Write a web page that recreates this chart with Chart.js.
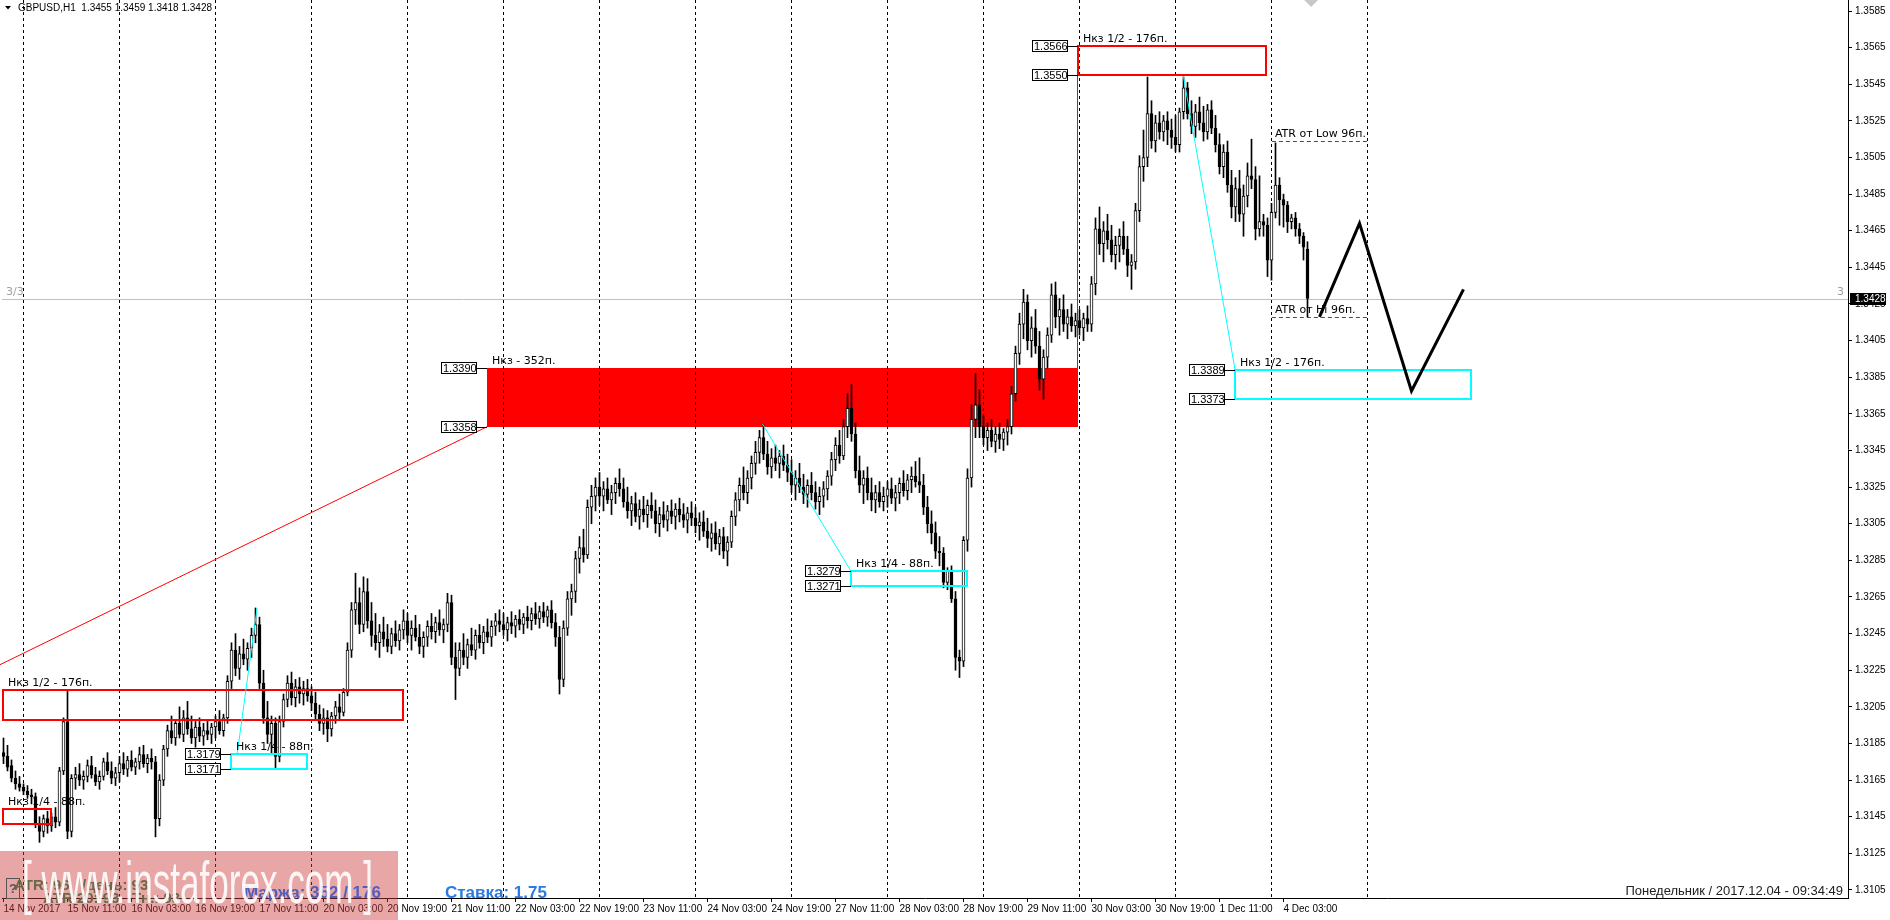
<!DOCTYPE html>
<html><head><meta charset="utf-8">
<script src="https://cdn.jsdelivr.net/npm/chart.js@4/dist/chart.umd.min.js"></script>
<style>html,body{margin:0;padding:0;background:#fff;overflow:hidden}</style>
</head><body>
<canvas id="c" width="1890" height="920" style="display:block;width:1890px;height:920px"></canvas>
<script>
// ---------- DATA (prices in pips: 3428 = 1.3428) ----------
const labelBars = [0,16,32,48,64,80,96,112,128,144,160,176,192,208,224,240,256,272,288,304,320];
const xLabels = ['14 Nov 2017','15 Nov 11:00','16 Nov 03:00','16 Nov 19:00','17 Nov 11:00','20 Nov 03:00','20 Nov 19:00','21 Nov 11:00','22 Nov 03:00','22 Nov 19:00','23 Nov 11:00','24 Nov 03:00','24 Nov 19:00','27 Nov 11:00','28 Nov 03:00','28 Nov 19:00','29 Nov 11:00','30 Nov 03:00','30 Nov 19:00','1 Dec 11:00','4 Dec 03:00'];
const separatorBars = [5,29,53,77,101,125,149,173,197,221,245,269,293,317,341];
const yTicks = [1.3105,1.3125,1.3145,1.3165,1.3185,1.3205,1.3225,1.3245,1.3265,1.3285,1.3305,1.3325,1.3345,1.3365,1.3385,1.3405,1.3425,1.3445,1.3465,1.3485,1.3505,1.3525,1.3545,1.3565,1.3585];

// candles [open, high, low, close]
const nov14 = [[3180,3188,3174,3178],[3178,3184,3170,3172],[3173,3176,3164,3166],[3166,3170,3160,3163],[3163,3167,3159,3161]];
const nov15 = [[3161,3163,3157,3159],[3159,3162,3155,3157],[3157,3160,3152,3156],[3156,3158,3139,3141],[3141,3145,3131,3137],[3137,3146,3134,3144],[3144,3148,3136,3140],[3140,3147,3137,3145],[3145,3150,3139,3142],[3142,3172,3140,3170],[3170,3199,3168,3197],[3197,3214,3133,3137],[3137,3168,3134,3166],[3166,3172,3160,3168],[3168,3174,3162,3165],[3165,3170,3160,3167],[3167,3176,3164,3173],[3173,3178,3166,3168],[3168,3172,3162,3164],[3164,3170,3160,3167],[3167,3177,3165,3175],[3175,3180,3168,3170],[3170,3175,3163,3166],[3166,3172,3162,3169]];
const nov16 = [[3169,3178,3164,3174],[3174,3180,3168,3171],[3171,3178,3167,3176],[3176,3181,3170,3172],[3172,3177,3168,3175],[3175,3183,3171,3179],[3179,3184,3172,3174],[3174,3179,3169,3177],[3177,3182,3171,3175],[3175,3178,3134,3144],[3144,3168,3140,3165],[3165,3184,3162,3182],[3182,3195,3178,3192],[3192,3200,3185,3188],[3188,3198,3184,3196],[3196,3205,3188,3190],[3190,3203,3186,3199],[3199,3208,3190,3193],[3193,3200,3185,3188],[3188,3197,3183,3194],[3194,3199,3186,3189],[3189,3196,3184,3192],[3192,3198,3187,3190],[3190,3196,3185,3194]];
const nov17 = [[3194,3200,3188,3197],[3197,3203,3190,3192],[3192,3201,3189,3199],[3199,3222,3196,3219],[3219,3240,3215,3236],[3236,3245,3222,3226],[3226,3238,3220,3234],[3234,3242,3228,3231],[3231,3240,3225,3237],[3237,3248,3232,3244],[3244,3259,3240,3250],[3250,3254,3215,3218],[3218,3225,3196,3199],[3199,3208,3185,3190],[3190,3200,3180,3196],[3196,3199,3171,3178],[3178,3200,3175,3197],[3197,3212,3194,3209],[3209,3222,3205,3218],[3218,3224,3206,3210],[3210,3220,3205,3216],[3216,3221,3207,3212],[3212,3219,3206,3215],[3215,3220,3208,3211]];
const nov20 = [[3211,3216,3203,3207],[3207,3213,3198,3201],[3201,3206,3192,3196],[3196,3204,3190,3199],[3199,3203,3186,3193],[3193,3202,3189,3200],[3200,3208,3196,3205],[3205,3212,3198,3202],[3202,3215,3200,3213],[3213,3240,3211,3236],[3236,3262,3232,3258],[3258,3278,3250,3262],[3262,3270,3245,3250],[3250,3276,3246,3268],[3268,3275,3248,3252],[3252,3262,3238,3244],[3244,3256,3236,3240],[3240,3250,3232,3246],[3246,3254,3238,3242],[3242,3250,3235,3238],[3238,3248,3234,3245],[3245,3252,3238,3241],[3241,3250,3236,3247],[3247,3258,3242,3252]];
const nov21 = [[3252,3256,3240,3244],[3244,3252,3236,3248],[3248,3255,3241,3243],[3243,3250,3234,3238],[3238,3246,3232,3243],[3243,3252,3238,3249],[3249,3256,3242,3246],[3246,3254,3240,3251],[3251,3258,3244,3247],[3247,3253,3240,3250],[3250,3267,3246,3262],[3262,3266,3228,3232],[3232,3240,3209,3226],[3226,3240,3222,3236],[3236,3245,3228,3232],[3232,3242,3226,3239],[3239,3248,3233,3236],[3236,3247,3231,3244],[3244,3250,3237,3240],[3240,3249,3234,3246],[3246,3253,3240,3243],[3243,3252,3238,3249],[3249,3256,3244,3252],[3252,3258,3246,3250]];
const nov22 = [[3250,3256,3244,3247],[3247,3254,3241,3251],[3251,3257,3245,3249],[3249,3255,3243,3253],[3253,3258,3247,3250],[3250,3256,3245,3254],[3254,3260,3248,3252],[3252,3259,3247,3256],[3256,3262,3250,3253],[3253,3260,3248,3257],[3257,3262,3251,3254],[3254,3260,3249,3258],[3258,3263,3248,3251],[3251,3256,3238,3243],[3243,3249,3212,3220],[3220,3252,3216,3248],[3248,3268,3244,3264],[3264,3272,3255,3268],[3268,3290,3262,3286],[3286,3298,3278,3292],[3292,3302,3284,3288],[3288,3318,3286,3314],[3314,3326,3305,3320],[3320,3330,3312,3325]];
const nov23 = [[3325,3333,3315,3320],[3320,3328,3312,3324],[3324,3330,3316,3318],[3318,3326,3310,3322],[3322,3330,3316,3327],[3327,3335,3320,3324],[3324,3330,3314,3317],[3317,3325,3308,3312],[3312,3320,3304,3316],[3316,3322,3306,3309],[3309,3318,3302,3313],[3313,3320,3306,3310],[3310,3318,3303,3315],[3315,3322,3308,3312],[3312,3318,3300,3305],[3305,3314,3298,3310],[3310,3317,3303,3307],[3307,3315,3301,3312],[3312,3318,3305,3309],[3309,3316,3302,3313],[3313,3319,3306,3310],[3310,3316,3303,3307],[3307,3314,3300,3311],[3311,3317,3304,3308]];
const nov24 = [[3308,3314,3300,3304],[3304,3311,3296,3306],[3306,3312,3298,3301],[3301,3308,3292,3297],[3297,3305,3290,3300],[3300,3306,3291,3294],[3294,3302,3288,3298],[3298,3303,3286,3290],[3290,3298,3282,3295],[3295,3312,3292,3309],[3309,3322,3304,3318],[3318,3330,3312,3326],[3326,3336,3318,3322],[3322,3334,3316,3330],[3330,3342,3324,3338],[3338,3350,3332,3344],[3344,3356,3338,3352],[3352,3359,3340,3343],[3343,3350,3332,3336],[3336,3346,3330,3341],[3341,3348,3334,3338],[3338,3345,3330,3342],[3342,3348,3334,3337],[3337,3343,3328,3333]];
const nov27 = [[3333,3340,3322,3326],[3326,3334,3318,3330],[3330,3338,3322,3325],[3325,3332,3316,3321],[3321,3329,3314,3326],[3326,3333,3318,3322],[3322,3328,3313,3317],[3317,3325,3310,3320],[3320,3328,3314,3324],[3324,3334,3318,3331],[3331,3344,3326,3340],[3340,3352,3334,3348],[3348,3356,3338,3342],[3342,3362,3340,3358],[3358,3376,3352,3368],[3368,3381,3350,3354],[3354,3360,3330,3334],[3334,3342,3322,3326],[3326,3334,3316,3330],[3330,3336,3318,3322],[3322,3330,3312,3318],[3318,3326,3311,3322],[3322,3328,3314,3317],[3317,3325,3312,3320]];
const nov28 = [[3320,3328,3314,3324],[3324,3330,3316,3319],[3319,3326,3312,3322],[3322,3330,3316,3327],[3327,3334,3320,3323],[3323,3332,3318,3329],[3329,3336,3322,3331],[3331,3339,3325,3328],[3328,3341,3322,3326],[3326,3332,3310,3314],[3314,3320,3300,3305],[3305,3312,3294,3300],[3300,3306,3286,3290],[3290,3298,3282,3289],[3289,3292,3270,3273],[3273,3281,3269,3279],[3279,3282,3262,3264],[3264,3268,3225,3232],[3232,3236,3221,3230],[3230,3298,3227,3296],[3296,3335,3290,3330],[3330,3370,3325,3362],[3362,3387,3352,3370],[3370,3378,3352,3358]];
const nov29 = [[3358,3364,3348,3352],[3352,3360,3345,3356],[3356,3362,3347,3350],[3350,3358,3344,3354],[3354,3360,3346,3351],[3351,3357,3345,3355],[3355,3362,3348,3358],[3358,3380,3354,3376],[3376,3402,3372,3398],[3398,3420,3392,3414],[3414,3433,3406,3426],[3426,3430,3400,3405],[3405,3418,3396,3412],[3412,3422,3398,3402],[3402,3410,3378,3384],[3384,3400,3373,3396],[3396,3412,3390,3408],[3408,3436,3404,3430],[3430,3437,3412,3418],[3418,3428,3408,3422],[3422,3430,3410,3414],[3414,3422,3406,3418],[3418,3425,3410,3413],[3413,3420,3407,3416]];
const nov30 = [[3416,3422,3408,3412],[3412,3420,3405,3417],[3417,3424,3410,3414],[3414,3440,3410,3436],[3436,3472,3430,3466],[3466,3478,3452,3458],[3458,3470,3448,3465],[3465,3474,3455,3460],[3460,3468,3448,3452],[3452,3462,3444,3457],[3457,3466,3448,3462],[3462,3470,3452,3455],[3455,3462,3440,3446],[3446,3452,3433,3448],[3448,3480,3444,3476],[3476,3506,3470,3500],[3500,3520,3492,3505],[3505,3549,3500,3529],[3529,3536,3510,3514],[3514,3528,3508,3524],[3524,3530,3515,3519],[3519,3528,3514,3525],[3525,3530,3512,3520],[3520,3526,3510,3516]];
const dec01 = [[3516,3528,3508,3512],[3512,3532,3508,3530],[3530,3549,3526,3543],[3543,3546,3526,3529],[3529,3536,3518,3522],[3522,3534,3516,3530],[3530,3538,3520,3524],[3524,3533,3514,3519],[3519,3534,3515,3531],[3531,3536,3518,3521],[3521,3528,3508,3512],[3512,3518,3496,3500],[3500,3512,3494,3508],[3508,3514,3486,3490],[3490,3498,3472,3478],[3478,3494,3470,3488],[3488,3498,3470,3474],[3474,3490,3462,3484],[3484,3502,3478,3495],[3495,3515,3488,3493],[3493,3500,3460,3466],[3466,3495,3462,3470],[3470,3474,3462,3468],[3468,3472,3440,3449]];
const dec04 = [[3449,3480,3438,3475],[3475,3513,3472,3490],[3490,3494,3468,3482],[3482,3485,3467,3479],[3479,3481,3464,3470],[3470,3474,3466,3472],[3472,3475,3462,3466],[3466,3469,3458,3462],[3462,3464,3449,3456],[3455,3459,3418,3428]];

// annotation values
const currentPrice = 1.3428;
const zonePrices = [[1.3390,1.3358],[1.3566,1.3550],[1.3214,1.3198],[1.3149,1.3141],[1.3179,1.3171],[1.3279,1.3271],[1.3389,1.3373]];
const zoneBars = [[120.9,268.6],[268.6,315.6],[-0.2,99.9],[-0.2,11.9],[56.9,75.9],[211.9,240.9],[307.9,366.9]];
const zoneTexts = ['Нкз - 352п.','Нкз 1/2 - 176п.','Нкз 1/2 - 176п.','Нкз 1/4 - 88п.','Нкз 1/4 - 88п.','Нкз 1/4 - 88п.','Нкз 1/2 - 176п.'];
const zoneBoxLabels = [['1.3390','1.3358'],['1.3566','1.3550'],null,null,['1.3179','1.3171'],['1.3279','1.3271'],['1.3389','1.3373']];
const cyanLines = [[58.4,1.3179,63.4,1.3259],[189.75,1.33595,211.9,1.3279],[295,1.3549,307.9,1.3389]];
const trendLine = [-0.9,1.3228,120.9,1.3358];
const redVertical = [268.4,1.3550,1.3390];
const atrLevels = [1.3514,1.3418];
const atrBars = [317.1,340.9];
const atrTexts = ['ATR от Low 96п.','ATR от Hi 96п.'];
const forecastBars = [329,339,352,365];
const forecastPrices = [1.3418,1.3469,1.33775,1.3433];
const markerBar = 326.9;
const titleText = 'GBPUSD,H1  1.3455 1.3459 1.3418 1.3428';
const dateText = 'Понедельник / 2017.12.04 - 09:34:49';
const infoTexts = ['ATR: 96   /день: 93','ATR/20: 93   Тн.: 93','Маржа: 352 / 176','Ставка: 1.75'];
const watermark = '[ www.instaforex.com ]';

// ---------- BUILD ----------
const P = v => 1 + v / 10000;
const candles = [].concat(nov14,nov15,nov16,nov17,nov20,nov21,nov22,nov23,nov24,nov27,nov28,nov29,nov30,dec01,dec04);

const zoneStyles = [
  {fill:'#ff0000'},{stroke:'#ff0000'},{stroke:'#ff0000'},{stroke:'#ff0000'},
  {stroke:'#00ffff'},{stroke:'#00ffff'},{stroke:'#00ffff'}];

const mt4 = {
  id:'mt4',
  beforeDatasetsDraw(chart){
    const {ctx, chartArea:a, scales:{x:xs,y:ys}} = chart;
    const X = b => xs.getPixelForValue(b), Y = p => ys.getPixelForValue(p);
    ctx.save();
    zonePrices.forEach((zp,k)=>{
      if(!zoneStyles[k].fill) return;
      const x0=Math.round(X(zoneBars[k][0])), x1=Math.round(X(zoneBars[k][1]));
      const y0=Math.round(Y(zp[0])), y1=Math.round(Y(zp[1]));
      ctx.fillStyle=zoneStyles[k].fill; ctx.fillRect(x0,y0,x1-x0,y1-y0);
    });
    ctx.lineWidth=1; ctx.strokeStyle='#000'; ctx.setLineDash([3,3]);
    separatorBars.forEach(b=>{const x=Math.round(X(b)-0.5)+0.5; ctx.beginPath(); ctx.moveTo(x,a.top); ctx.lineTo(x,a.bottom); ctx.stroke();});
    ctx.setLineDash([]);
    const yc=Math.round(Y(currentPrice))+0.5;
    ctx.strokeStyle='#c0c0c0'; ctx.beginPath(); ctx.moveTo(a.left,yc); ctx.lineTo(a.right,yc); ctx.stroke();
    ctx.strokeStyle='#ff0000'; ctx.beginPath(); ctx.moveTo(X(trendLine[0]),Y(trendLine[1])); ctx.lineTo(X(trendLine[2]),Y(trendLine[3])); ctx.stroke();
    // small grey marker at the top edge
    const xm=X(markerBar);
    ctx.fillStyle='#c8c8c8'; ctx.beginPath(); ctx.moveTo(xm-7,a.top); ctx.lineTo(xm,a.top+7); ctx.lineTo(xm+7,a.top); ctx.closePath(); ctx.fill();
    ctx.restore();
  },
  afterDatasetsDraw(chart){
    const {ctx, chartArea:a, scales:{x:xs,y:ys}} = chart;
    const X = b => xs.getPixelForValue(b), Y = p => ys.getPixelForValue(p);
    ctx.save();
    zonePrices.forEach((zp,k)=>{
      if(!zoneStyles[k].stroke) return;
      const x0=Math.round(X(zoneBars[k][0])), x1=Math.round(X(zoneBars[k][1]));
      const y0=Math.round(Y(zp[0])), y1=Math.round(Y(zp[1]));
      ctx.strokeStyle=zoneStyles[k].stroke; ctx.lineWidth=2; ctx.strokeRect(x0,y0,x1-x0,y1-y0);
    });
    ctx.lineWidth=1; ctx.strokeStyle='#ff0000';
    const xv=Math.round(X(redVertical[0]))+0.5;
    ctx.beginPath(); ctx.moveTo(xv,Y(redVertical[1])); ctx.lineTo(xv,Y(redVertical[2])); ctx.stroke();
    ctx.strokeStyle='#00ffff';
    cyanLines.forEach(l=>{ctx.beginPath(); ctx.moveTo(X(l[0]),Y(l[1])); ctx.lineTo(X(l[2]),Y(l[3])); ctx.stroke();});
    ctx.font='11px "Liberation Sans"'; ctx.textBaseline='middle'; ctx.textAlign='left';
    zonePrices.forEach((zp,k)=>{
      const lb=zoneBoxLabels[k]; if(!lb) return;
      const xr=Math.round(X(zoneBars[k][0]));
      [0,1].forEach(j=>{
        const y=Math.round(Y(zp[j])); const bx=xr-46, by=y-6;
        ctx.fillStyle='#fff'; ctx.fillRect(bx,by,36,12);
        ctx.strokeStyle='#000'; ctx.lineWidth=1; ctx.strokeRect(bx+0.5,by+0.5,35,11);
        ctx.fillStyle='#000'; ctx.fillText(lb[j],bx+2,y+0.5);
        ctx.beginPath(); ctx.moveTo(bx+36,y+0.5); ctx.lineTo(xr,y+0.5); ctx.stroke();
      });
    });
    ctx.font='11px "DejaVu Sans"'; ctx.textBaseline='alphabetic'; ctx.fillStyle='#000';
    zonePrices.forEach((zp,k)=>{
      ctx.fillText(zoneTexts[k], Math.max(X(zoneBars[k][0]),3)+5, Math.round(Y(zp[0]))-4);
    });
    ctx.setLineDash([4,3]); ctx.lineWidth=1;
    ['#008000','#ff0000'].forEach((c,k)=>{
      const y=Math.round(Y(atrLevels[k]))+0.5;
      ctx.strokeStyle=c; ctx.beginPath(); ctx.moveTo(X(atrBars[0]),y); ctx.lineTo(X(atrBars[1]),y); ctx.stroke();
      ctx.fillText(atrTexts[k], X(atrBars[0])+3, y-5);
    });
    ctx.setLineDash([]);
    ctx.strokeStyle='#000'; ctx.lineWidth=3; ctx.lineJoin='miter';
    ctx.beginPath();
    forecastBars.forEach((b,k)=>{ const px=X(b), py=Y(forecastPrices[k]); k?ctx.lineTo(px,py):ctx.moveTo(px,py);});
    ctx.stroke();
    ctx.font='11px "DejaVu Sans"'; ctx.fillStyle='#a0a0a0';
    const yc=Math.round(Y(currentPrice));
    ctx.fillText('3/3', 6, yc-4);
    ctx.textAlign='right'; ctx.fillText('3', a.right-4, yc-4);
    ctx.restore();
  },
  afterDraw(chart){
    const {ctx, chartArea:a, scales:{y:ys}} = chart;
    ctx.save();
    const yc=Math.round(ys.getPixelForValue(currentPrice));
    ctx.fillStyle='#000'; ctx.fillRect(a.right+2, yc-6, 36, 12);
    ctx.fillStyle='#fff'; ctx.font='10px "Liberation Sans"'; ctx.textBaseline='middle'; ctx.textAlign='left';
    ctx.fillText(currentPrice.toFixed(4), a.right+7, yc+0.5);
    ctx.fillStyle='#000'; ctx.beginPath(); ctx.moveTo(5,6); ctx.lineTo(11,6); ctx.lineTo(8,9.5); ctx.closePath(); ctx.fill();
    ctx.font='10px "Liberation Sans"'; ctx.textBaseline='alphabetic';
    ctx.fillText(titleText, 18, 11);
    ctx.font='13px "Liberation Sans"'; ctx.textAlign='right'; ctx.fillStyle='#222';
    ctx.fillText(dateText, a.right-5, 895);
    ctx.fillStyle='rgba(204,57,57,0.45)'; ctx.fillRect(0,851,398,69);
    ctx.textAlign='left';
    ctx.strokeStyle='#555'; ctx.lineWidth=1; ctx.strokeRect(6.5,878.5,13,20);
    ctx.fillStyle='#555'; ctx.font='bold 13px "Liberation Sans"'; ctx.fillText('?',9,893);
    ctx.font='bold 15px "Liberation Sans"'; ctx.fillStyle='#6b6848';
    ctx.fillText(infoTexts[0], 14, 890);
    ctx.fillText(infoTexts[1], 43, 903);
    ctx.font='bold 17px "Liberation Sans"'; ctx.fillStyle='#4f5fbf';
    ctx.fillText(infoTexts[2], 244, 898);
    ctx.fillStyle='#2a7ae2';
    ctx.fillText(infoTexts[3], 445, 898);
    ctx.font='60px "Liberation Sans"'; ctx.fillStyle='rgba(255,255,255,0.9)';
    const w=ctx.measureText(watermark).width;
    ctx.translate(22,903); ctx.scale(351/w,1); ctx.fillText(watermark,0,0);
    ctx.restore();
  }
};

new Chart(document.getElementById('c'), {
  type:'bar',
  data:{ datasets:[
    {label:'wick', data:candles.map((c,i)=>({x:i,y:[P(c[2]),P(c[1])]})), backgroundColor:'#000', barThickness:1, grouped:false, order:2},
    {label:'body', data:candles.map((c,i)=>({x:i,y:[P(c[0]),P(c[3])]})), backgroundColor:candles.map(c=>c[3]>=c[0]?'#fff':'#000'), borderColor:'#000', borderWidth:1, borderSkipped:false, barThickness:3, minBarLength:1, grouped:false, order:1}
  ]},
  options:{
    responsive:false, animation:false, events:[],
    layout:{padding:{left:2,right:0,top:0,bottom:0}},
    plugins:{legend:{display:false}, tooltip:{enabled:false}},
    scales:{
      x:{type:'linear', min:-0.375, max:461.125, offset:false,
        grid:{display:true, drawOnChartArea:false, drawTicks:true, tickLength:4, color:'#000', offset:false},
        border:{display:true, color:'#000', width:1},
        ticks:{autoSkip:false, maxRotation:0, minRotation:0, align:'start', padding:1, color:'#000', font:{family:'Liberation Sans', size:10},
          callback:v=>{const k=labelBars.indexOf(v); return k>=0?xLabels[k]:'';}},
        afterBuildTicks:s=>{s.ticks=labelBars.map(v=>({value:v}));},
        afterFit:s=>{s.height=22; s.paddingLeft=0; s.paddingRight=0;}
      },
      y:{type:'linear', position:'right', min:1.310062, max:1.359101,
        grid:{display:true, drawOnChartArea:false, drawTicks:true, tickLength:4, color:'#000'},
        border:{display:true, color:'#000', width:1},
        ticks:{color:'#000', padding:3, font:{family:'Liberation Sans', size:10}, callback:v=>v.toFixed(4)},
        afterBuildTicks:s=>{s.ticks=yTicks.map(v=>({value:v}));},
        afterFit:s=>{s.width=42; s.paddingTop=0; s.paddingBottom=0;}
      }
    }
  },
  plugins:[mt4]
});
</script>
</body></html>
